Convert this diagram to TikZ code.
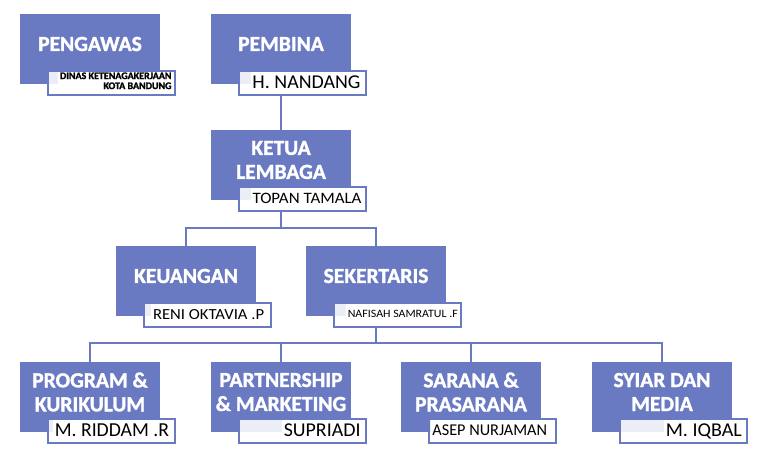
\documentclass[tikz,border=0pt]{standalone}
\usepackage{fontspec}
\setmainfont{Carlito}[BoldFont={Carlito Bold}, BoldFeatures={FakeBold=1.5}]
\usepackage{graphicx}
\definecolor{boxblue}{RGB}{106,122,194}
\tikzset{
  titlebox/.style={fill=boxblue, minimum width=140pt, minimum height=70pt, inner sep=0pt, outer sep=0pt},
  titletext/.style={text=white, font=\fontsize{21.5}{24}\selectfont\bfseries, align=center, inner sep=0pt},
  namebox/.style={draw=boxblue, line width=2pt, fill=white, fill opacity=0.88, minimum width=127pt, minimum height=24pt, inner sep=0pt, outer sep=0pt},
  nametext/.style={text=black, inner sep=0pt},
  conn/.style={draw=boxblue, line width=2pt},
}
% id, x, y, title, text width, cap height, text right offset, name
\newcommand\orgunit[8]{%
  \node[titlebox, anchor=north west] (#1) at (#2,#3) {};
  \node[titletext] (#1-t) at (#2+70,#3+30) {#4};
  \node[namebox, anchor=north west] (#1-n) at (#2+28,#3+56.5) {};
  \fill[white] (#2+#7-#5-2,#3+57.5) rectangle (#2+154,#3+79.5);
  \node[nametext, anchor=base east] (#1-l) at (#2+#7,#3+68+#6/2) {\resizebox{#5pt}{#6pt}{#8}};
}
\begin{document}
\begin{tikzpicture}[x=1pt,y=-1pt]
\useasboundingbox (0,0) rectangle (773,463);
\fill[white] (0,0) rectangle (773,463);

% PENGAWAS
\node[titlebox, anchor=north west] (pengawas) at (20,14) {};
\node[titletext] (pengawas-t) at (90,44) {PENGAWAS};
\node[namebox, anchor=north west] (pengawas-n) at (48,70.5) {};
\fill[white] (58,71.5) rectangle (174,93.5);
\node[nametext, anchor=east, align=right, font=\fontsize{10}{10}\selectfont\bfseries] (pengawas-l) at (171.7,80.8) {DINAS KETENAGAKERJAAN\\KOTA BANDUNG};

\orgunit{pembina}{211}{14}{PEMBINA}{108}{12.7}{149.7}{H. NANDANG}
\orgunit{ketua}{211}{130}{KETUA\\LEMBAGA}{109}{10.3}{150.7}{TOPAN TAMALA}
\orgunit{keuangan}{116}{246}{KEUANGAN}{111}{10}{148.3}{RENI OKTAVIA .P}
\orgunit{sekertaris}{306}{246}{SEKERTARIS}{110}{7.3}{152}{NAFISAH SAMRATUL .F}
\orgunit{program}{20}{362}{PROGRAM \&\\KURIKULUM}{114.3}{12.7}{149.3}{M. RIDDAM .R}
\orgunit{partnership}{211}{362}{PARTNERSHIP\\\& MARKETING}{76.7}{12.7}{149.7}{SUPRIADI}
\orgunit{sarana}{401}{362}{SARANA \&\\PRASARANA}{114.7}{10.7}{146.3}{ASEP NURJAMAN}
\orgunit{syiar}{592}{362}{SYIAR DAN\\MEDIA}{76}{12.7}{150}{M. IQBAL}

% connectors
\coordinate (bus1) at (281,228);
\coordinate (bus2) at (376,343);
\draw[conn] (pembina.center |- pembina-n.south) -- (ketua.north);
\draw[conn] (ketua.center |- ketua-n.south) -- (bus1);
\draw[conn] (keuangan.north) -- (keuangan.north |- bus1) -- (sekertaris.north |- bus1) -- (sekertaris.north);
\draw[conn] (sekertaris.center |- sekertaris-n.south) -- (bus2);
\draw[conn] (program.north) -- (program.north |- bus2) -- (syiar.north |- bus2) -- (syiar.north);
\draw[conn] (partnership.north) -- (partnership.north |- bus2);
\draw[conn] (sarana.north) -- (sarana.north |- bus2);
\end{tikzpicture}
\end{document}
